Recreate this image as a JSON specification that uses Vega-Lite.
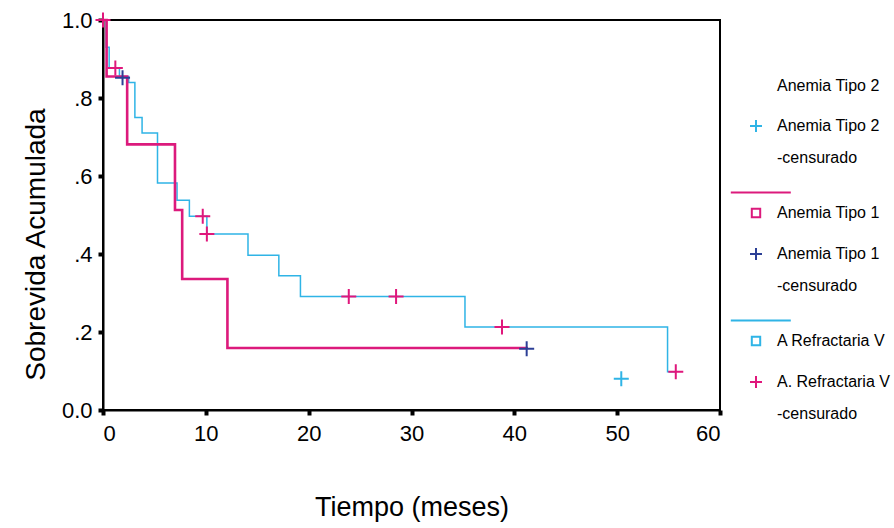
{
  "$schema": "https://vega.github.io/schema/vega-lite/v6.json",
  "width": 617,
  "height": 390,
  "autosize": {"type": "none"},
  "padding": {"left": 103, "top": 20, "right": 174, "bottom": 118},
  "background": "white",
  "config": {
    "font": "Liberation Sans",
    "view": {"stroke": "black", "strokeWidth": 2},
    "style": {"guide-label": {"lineHeight": 32}},
    "axis": {
      "grid": false,
      "domainColor": "black",
      "domainWidth": 2,
      "tickColor": "black",
      "tickWidth": 4,
      "tickSize": 5,
      "labelColor": "black",
      "titleColor": "black",
      "labelFontSize": 22,
      "titleFontWeight": "normal",
      "labelFont": "Liberation Sans",
      "titleFont": "Liberation Sans"
    }
  },
  "data": {
    "values": [
      {"grupo": "Anemia Tipo 1", "estado": "curva", "tiempo": 0, "sobrevida": 1.0},
      {"grupo": "Anemia Tipo 1", "estado": "curva", "tiempo": 0.35, "sobrevida": 0.855},
      {"grupo": "Anemia Tipo 1", "estado": "curva", "tiempo": 2.35, "sobrevida": 0.681},
      {"grupo": "Anemia Tipo 1", "estado": "curva", "tiempo": 7.0, "sobrevida": 0.513},
      {"grupo": "Anemia Tipo 1", "estado": "curva", "tiempo": 7.7, "sobrevida": 0.336},
      {"grupo": "Anemia Tipo 1", "estado": "curva", "tiempo": 12.1, "sobrevida": 0.159},
      {"grupo": "Anemia Tipo 1", "estado": "curva", "tiempo": 41.2, "sobrevida": 0.157},
      {"grupo": "A Refractaria V", "estado": "curva", "tiempo": 0, "sobrevida": 1.0},
      {"grupo": "A Refractaria V", "estado": "curva", "tiempo": 0.3, "sobrevida": 0.93},
      {"grupo": "A Refractaria V", "estado": "curva", "tiempo": 0.6, "sobrevida": 0.877},
      {"grupo": "A Refractaria V", "estado": "curva", "tiempo": 1.6, "sobrevida": 0.855},
      {"grupo": "A Refractaria V", "estado": "curva", "tiempo": 2.5, "sobrevida": 0.84},
      {"grupo": "A Refractaria V", "estado": "curva", "tiempo": 3.1, "sobrevida": 0.75},
      {"grupo": "A Refractaria V", "estado": "curva", "tiempo": 3.8, "sobrevida": 0.71},
      {"grupo": "A Refractaria V", "estado": "curva", "tiempo": 5.3, "sobrevida": 0.582},
      {"grupo": "A Refractaria V", "estado": "curva", "tiempo": 7.2, "sobrevida": 0.538},
      {"grupo": "A Refractaria V", "estado": "curva", "tiempo": 8.4, "sobrevida": 0.497},
      {"grupo": "A Refractaria V", "estado": "curva", "tiempo": 10.1, "sobrevida": 0.451},
      {"grupo": "A Refractaria V", "estado": "curva", "tiempo": 14.1, "sobrevida": 0.397},
      {"grupo": "A Refractaria V", "estado": "curva", "tiempo": 17.1, "sobrevida": 0.344},
      {"grupo": "A Refractaria V", "estado": "curva", "tiempo": 19.2, "sobrevida": 0.291},
      {"grupo": "A Refractaria V", "estado": "curva", "tiempo": 35.2, "sobrevida": 0.213},
      {"grupo": "A Refractaria V", "estado": "curva", "tiempo": 54.9, "sobrevida": 0.098},
      {"grupo": "A Refractaria V", "estado": "curva", "tiempo": 55.7, "sobrevida": 0.098},
      {"grupo": "Anemia Tipo 2 -censurado", "estado": "censura", "tiempo": 50.4, "sobrevida": 0.08},
      {"grupo": "Anemia Tipo 1 -censurado", "estado": "censura", "tiempo": 1.9, "sobrevida": 0.852},
      {"grupo": "Anemia Tipo 1 -censurado", "estado": "censura", "tiempo": 41.2, "sobrevida": 0.157},
      {"grupo": "A. Refractaria V -censurado", "estado": "censura", "tiempo": 0, "sobrevida": 1.0},
      {"grupo": "A. Refractaria V -censurado", "estado": "censura", "tiempo": 1.2, "sobrevida": 0.877},
      {"grupo": "A. Refractaria V -censurado", "estado": "censura", "tiempo": 9.7, "sobrevida": 0.497},
      {"grupo": "A. Refractaria V -censurado", "estado": "censura", "tiempo": 10.1, "sobrevida": 0.451},
      {"grupo": "A. Refractaria V -censurado", "estado": "censura", "tiempo": 23.9, "sobrevida": 0.291},
      {"grupo": "A. Refractaria V -censurado", "estado": "censura", "tiempo": 28.5, "sobrevida": 0.291},
      {"grupo": "A. Refractaria V -censurado", "estado": "censura", "tiempo": 38.8, "sobrevida": 0.213},
      {"grupo": "A. Refractaria V -censurado", "estado": "censura", "tiempo": 55.7, "sobrevida": 0.098}
    ]
  },
  "encoding": {
    "x": {
      "field": "tiempo",
      "type": "quantitative",
      "scale": {"domain": [0, 60], "nice": false},
      "axis": {
        "values": [0, 10, 20, 30, 40, 50, 60],
        "title": "Tiempo (meses)",
        "titleFontSize": 27,
        "titleY": 105,
        "titleBaseline": "alphabetic",
        "labelPadding": 8
      }
    },
    "y": {
      "field": "sobrevida",
      "type": "quantitative",
      "scale": {"domain": [0, 1], "nice": false},
      "axis": {
        "values": [0, 0.2, 0.4, 0.6, 0.8, 1],
        "labelExpr": "datum.value == 0 ? '0.0' : datum.value == 1 ? '1.0' : '.' + format(datum.value * 10, 'd')",
        "title": "Sobrevida Acumulada",
        "titleFontSize": 28,
        "titleX": -59,
        "titleY": 224,
        "titleAngle": 270,
        "titleBaseline": "alphabetic",
        "titleAlign": "center",
        "labelPadding": 6
      }
    }
  },
  "layer": [
    {
      "transform": [{"filter": "datum.grupo == 'A Refractaria V'"}],
      "mark": {"type": "line", "interpolate": "step-after", "color": "#2fb4e6", "strokeWidth": 1.5}
    },
    {
      "transform": [{"filter": "datum.grupo == 'Anemia Tipo 1'"}],
      "mark": {"type": "line", "interpolate": "step-after", "color": "#dc1a7c", "strokeWidth": 2.6}
    },
    {
      "transform": [{"filter": "datum.estado == 'censura'"}],
      "mark": {"type": "point", "filled": false, "strokeWidth": 2, "size": 225, "opacity": 1},
      "encoding": {
        "color": {
          "field": "grupo",
          "type": "nominal",
          "scale": {
            "domain": ["Anemia Tipo 2", "Anemia Tipo 2 -censurado", "Anemia Tipo 1", "Anemia Tipo 1 -censurado", "A Refractaria V", "A. Refractaria V -censurado"],
            "range": ["#3a9a3a", "#2fb4e6", "#dc1a7c", "#2c3f96", "#2fb4e6", "#e0177c"]
          },
          "legend": {
            "title": null,
            "orient": "none",
            "legendX": 645,
            "legendY": 58,
            "padding": 0,
            "symbolSize": 144,
            "symbolStrokeWidth": 2,
            "labelFontSize": 16,
            "labelOffset": 13,
            "labelColor": "black",
            "labelLimit": 200,
            "rowPadding": 22,
            "labelExpr": "indexof(datum.label, ' -censurado') > 0 ? [replace(datum.label, ' -censurado', ''), '-censurado'] : datum.label"
          }
        },
        "shape": {
          "field": "grupo",
          "type": "nominal",
          "scale": {
            "domain": ["Anemia Tipo 2", "Anemia Tipo 2 -censurado", "Anemia Tipo 1", "Anemia Tipo 1 -censurado", "A Refractaria V", "A. Refractaria V -censurado"],
            "range": ["M0,0", "M-1,0H1M0,-1V1", "M-4.2,-3.4H5.8M-0.7,-0.7H0.7V0.7H-0.7Z", "M-1,0H1M0,-1V1", "M-4.2,-3.4H5.8M-0.7,-0.7H0.7V0.7H-0.7Z", "M-1,0H1M0,-1V1"]
          }
        }
      }
    }
  ]
}
